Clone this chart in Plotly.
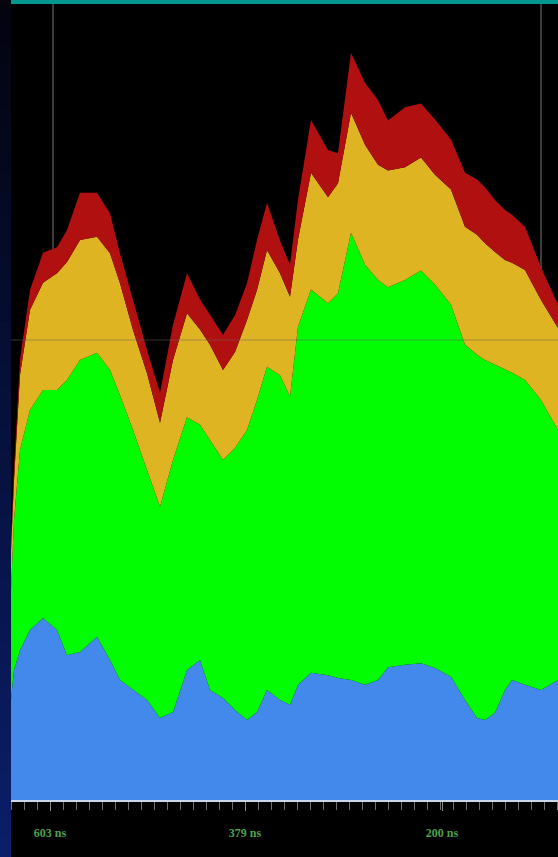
import plotly.graph_objects as go

# Sample positions along the time axis
t = [0, 3, 9, 19, 32, 46, 56, 69, 86, 99, 109, 122, 136, 149, 162, 176, 189, 199,
     212, 224, 236, 246, 256, 269, 279, 287, 300, 317, 327, 340, 354, 367, 377, 394,
     410, 424, 440, 454, 466, 474, 484, 494, 501, 514, 530, 547]

# Stacked layer values (bottom to top)
blue = [12.5, 16.25, 18.75, 21.25, 22.75, 21.25, 18.1, 18.5, 20.4, 17.5, 15.0, 13.75,
        12.5, 10.25, 11.0, 16.25, 17.5, 13.75, 12.75, 11.25, 10.0, 11.0, 13.75, 12.5,
        11.9, 14.4, 15.9, 15.6, 15.25, 15.0, 14.4, 15.0, 16.6, 16.9, 17.1, 16.5, 15.4,
        12.5, 10.25, 10.0, 10.9, 13.75, 15.0, 14.4, 13.75, 15.0]
green = [13.75, 18.75, 25.0, 27.5, 28.5, 30.0, 34.4, 36.5, 35.5, 36.25, 35.6, 32.5,
         28.75, 26.4, 31.5, 31.6, 29.4, 31.25, 29.75, 32.75, 36.25, 39.0, 40.4, 40.6,
         38.5, 44.75, 47.9, 46.5, 48.1, 55.9, 52.5, 50.0, 47.5, 48.1, 49.1, 47.9, 46.5,
         44.4, 45.4, 45.0, 43.5, 40.0, 38.4, 38.1, 36.25, 31.25]
gold = [5.0, 5.0, 9.4, 12.5, 13.4, 14.6, 14.75, 15.0, 14.5, 14.6, 14.0, 12.5, 12.1,
        10.5, 12.5, 13.0, 11.9, 11.9, 11.25, 12.0, 13.75, 13.75, 14.6, 12.75, 12.5,
        10.9, 14.6, 13.25, 13.75, 15.0, 15.0, 14.4, 14.6, 14.1, 14.1, 13.75, 14.4,
        14.75, 15.0, 14.6, 14.1, 13.75, 13.75, 13.75, 12.5, 12.75]
red = [0.6, 1.25, 1.9, 2.5, 3.75, 3.25, 4.0, 5.9, 5.5, 5.0, 3.75, 3.75, 2.9, 3.75,
       4.4, 5.0, 3.75, 3.75, 4.4, 4.6, 4.6, 6.25, 5.9, 4.1, 4.0, 5.0, 6.6, 5.9, 3.75,
       7.5, 7.75, 8.1, 6.25, 7.5, 6.75, 6.9, 6.25, 6.75, 6.9, 7.0, 6.5, 6.25, 6.0, 5.4,
       4.1, 2.9]

tick_pos = [39, 234, 431]
tick_text = ["603 ns", "379 ns", "200 ns"]

layers = [
    ("blue", blue, "#4389ec"),
    ("green", green, "#02fd02"),
    ("gold", gold, "#dfb422"),
    ("red", red, "#b01010"),
]

fig = go.Figure()
for name, vals, color in layers:
    fig.add_trace(go.Scatter(
        x=t, y=vals, name=name, mode="lines", stackgroup="s",
        line=dict(width=0, color=color), fillcolor=color,
        hoverinfo="skip", showlegend=False,
    ))

shapes = []
# left gradient strip (bands overlap so no seams show)
n = 40
W, H = 547, 796
step = 857 / n
for i in range(n):
    f = i / (n - 1)
    r = int(3 + 8 * f)
    g = int(4 + 26 * f)
    b = int(14 + 92 * f)
    top = 1 + 4 / H - i * step / H
    bot = 1 + 4 / H - (i + 1) * step / H - 2 / H
    shapes.append(dict(type="rect", xref="paper", yref="paper",
                       x0=-11 / W, x1=0, y0=bot, y1=top,
                       fillcolor=f"rgb({r},{g},{b})", line=dict(width=0), layer="above"))
# top teal band
shapes.append(dict(type="rect", xref="paper", yref="paper", x0=0, x1=1,
                   y0=1, y1=1 + 4 / H, fillcolor="#03978f", line=dict(width=0)))
# vertical grid lines behind the areas
for xv in [42, 530]:
    shapes.append(dict(type="line", xref="x", yref="paper", x0=xv, x1=xv, y0=0, y1=1,
                       line=dict(color="#505050", width=1.5), layer="below"))
# faint horizontal reference line over the areas
shapes.append(dict(type="line", xref="paper", yref="y", x0=0, x1=1, y0=57.5, y1=57.5,
                   line=dict(color="rgba(100,100,100,0.25)", width=2), layer="above"))

fig.update_layout(
    width=558, height=857,
    margin=dict(l=11, r=0, t=4, b=57),
    paper_bgcolor="#000000", plot_bgcolor="#000000",
    shapes=shapes,
    xaxis=dict(range=[0, 547], showgrid=False, zeroline=False,
               tickvals=tick_pos, ticktext=tick_text,
               ticks="outside", ticklen=9, tickcolor="#8a8a8a", tickwidth=1,
               ticklabelstandoff=12,
               tickfont=dict(family="Liberation Serif", size=12, color="#4fa04f",
                             weight="bold"),
               showline=True, linecolor="#c9d9ea", linewidth=2,
               minor=dict(ticks="outside", ticklen=8, tickcolor="#6f6f6f", dtick=13, tick0=0)),
    yaxis=dict(range=[0, 99.5], showgrid=False, zeroline=False, showticklabels=False,
               showline=False),
)

fig.write_html("out.html")
